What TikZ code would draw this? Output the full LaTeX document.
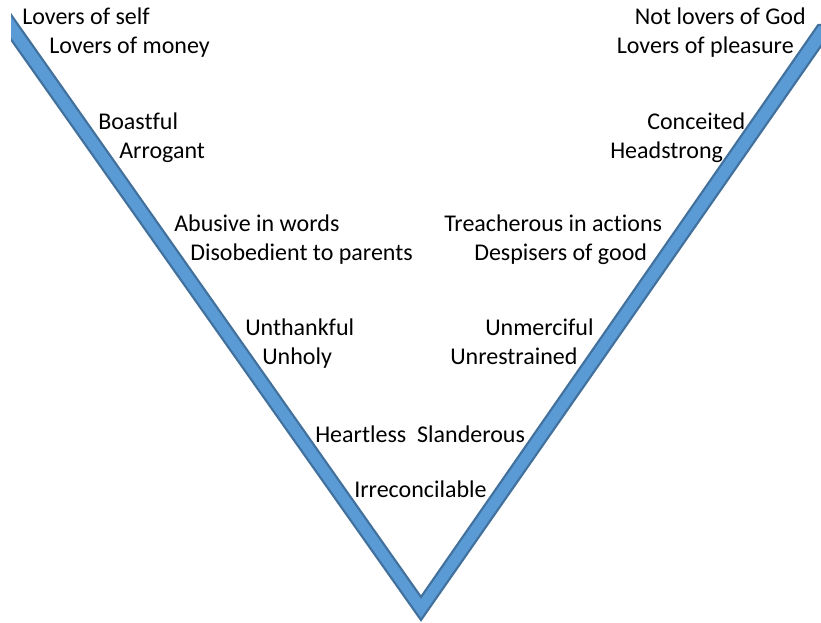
\documentclass[tikz,border=0pt]{standalone}
\usepackage{fontspec}
\setmainfont{Carlito}[Ligatures={NoCommon,NoContextual}]
\definecolor{vfill}{HTML}{5B9BD5}
\definecolor{vline}{HTML}{41719C}
\begin{document}
\begin{tikzpicture}[x=0.75pt,y=-0.75pt,
  lbl/.style={font=\fontsize{18}{21}\selectfont, inner sep=0pt, anchor=base west},
  rlbl/.style={lbl, anchor=base east},
  vband/.style={fill=vfill, draw=vline, line width=1.6pt, line join=miter}]
\useasboundingbox (0,0) rectangle (821,623);
\begin{scope}
\clip (11,9) rectangle (821,623);
\draw[vband] (-31,-20) -- (421,620) -- (835.6,25) -- (818.2,25) -- (421,597) -- (-13.5,-20) -- cycle;
\end{scope}
% left column
\node[lbl] (l1) at (22,25) {Lovers of self};
\node[lbl] (l2) at (49,54) {Lovers of money};
\node[lbl] (l3) at (98,130) {Boastful};
\node[lbl] (l4) at (119,159) {Arrogant};
\node[lbl] (l5) at (174,232) {Abusive in words};
\node[lbl] (l6) at (190,261) {Disobedient to parents};
\node[lbl] (l7) at (245,336) {Unthankful};
\node[lbl] (l8) at (262,365) {Unholy};
\node[lbl] (l9) at (315,442) {Heartless\ \ Slanderous};
\node[lbl] (l10) at (354,497) {Irreconcilable};
% right column
\node[rlbl] (r1) at (806,25) {Not lovers of God};
\node[rlbl] (r2) at (794,54) {Lovers of pleasure};
\node[lbl] (r3) at (647,130) {Conceited};
\node[lbl] (r4) at (610,159) {Headstrong};
\node[lbl] (r5) at (444,232) {Treacherous in actions};
\node[lbl] (r6) at (474,261) {Despisers of good};
\node[lbl] (r7) at (485,336) {Unmerciful};
\node[lbl] (r8) at (450,365) {Unrestrained};
\end{tikzpicture}
\end{document}
